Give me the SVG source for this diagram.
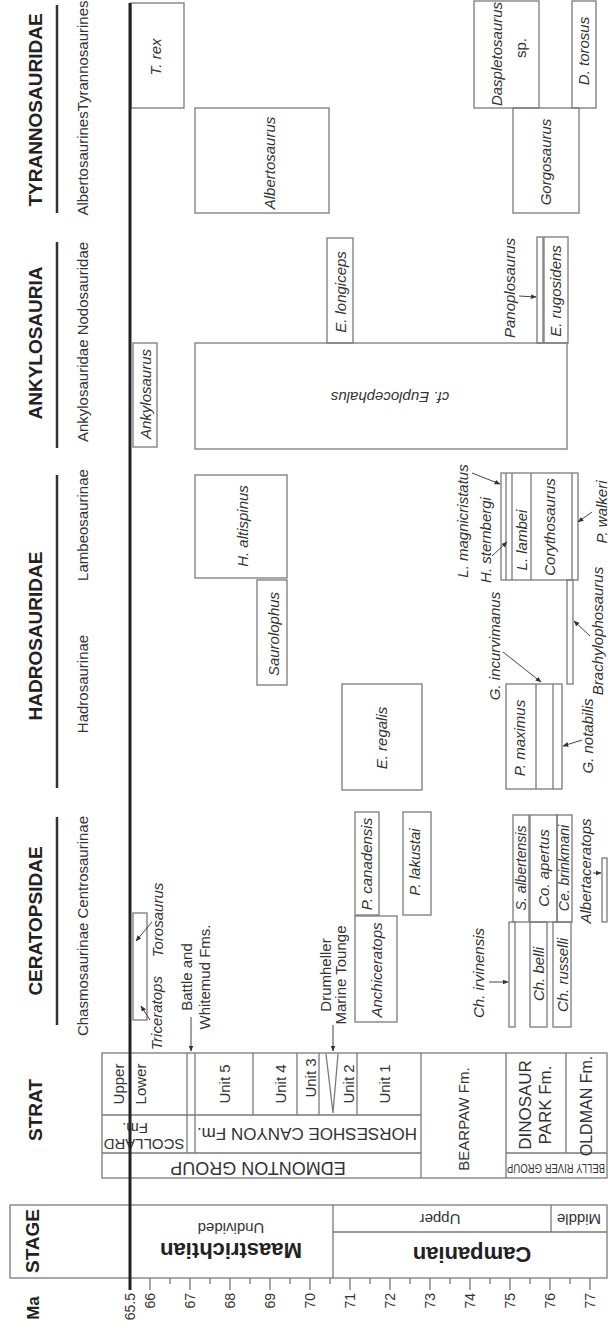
<svg xmlns="http://www.w3.org/2000/svg" width="608" height="1335" viewBox="0 0 608 1335">
<defs>
<marker id="ah" viewBox="0 0 10 10" refX="9" refY="5" markerWidth="6" markerHeight="6" orient="auto"><path d="M0,1 L10,5 L0,9 z" fill="#333"/></marker>
<style>
.bx{fill:none;stroke:#7a7a7a;stroke-width:1.3}
.ln{stroke:#7a7a7a;stroke-width:1.3;fill:none}
text{font-family:"Liberation Sans",Arial,sans-serif;fill:#333;font-size:15px}
.it{font-style:italic}
.sm{font-size:14px}
.hd{font-weight:bold;font-size:19px;fill:#222}
.st{font-weight:bold;font-size:22px;fill:#222}
.tk{font-size:14px}
.ar{stroke:#444;stroke-width:1;fill:none;marker-end:url(#ah)}
.bar{stroke:#333;stroke-width:2.5}
.kpg{stroke:#222;stroke-width:3}
</style>
</defs>
<rect width="608" height="1335" fill="#fff"/>

<g id="headers">
<text class="hd" text-anchor="middle" transform="translate(42,110) rotate(-90)">TYRANNOSAURIDAE</text>
<text class="hd" text-anchor="middle" transform="translate(42,343) rotate(-90)">ANKYLOSAURIA</text>
<text class="hd" text-anchor="middle" transform="translate(42,636) rotate(-90)">HADROSAURIDAE</text>
<text class="hd" text-anchor="middle" transform="translate(42,921) rotate(-90)">CERATOPSIDAE</text>
<text class="hd" text-anchor="middle" transform="translate(42,1110) rotate(-90)">STRAT</text>
<text class="hd" text-anchor="middle" transform="translate(39,1241) rotate(-90)">STAGE</text>
<text class="hd" style="font-size:17px" text-anchor="middle" transform="translate(39,1308) rotate(-90)">Ma</text>
<path class="bar" d="M57 5V213 M57 242V448 M57 475V788 M57 817V1025"/>
<text text-anchor="middle" transform="translate(88,108) rotate(-90)">AlbertosaurinesTyrannosaurines</text>
<text text-anchor="middle" transform="translate(88,342) rotate(-90)">Ankylosauridae Nodosauridae</text>
<text text-anchor="middle" transform="translate(88,525) rotate(-90)">Lambeosaurinae</text>
<text text-anchor="middle" transform="translate(88,684) rotate(-90)">Hadrosaurinae</text>
<text text-anchor="middle" transform="translate(88,926) rotate(-90)">Chasmosaurinae Centrosaurinae</text>
</g>

<g id="stage">
<rect class="bx" x="10" y="1205" width="597" height="73"/>
<path class="ln" d="M333 1205V1278 M333 1232H607 M551 1205V1232"/>
<text text-anchor="middle" transform="translate(231,1223) rotate(180)">Undivided</text>
<text class="st" text-anchor="middle" transform="translate(231,1243) rotate(180)">Maastrichtian</text>
<text text-anchor="middle" transform="translate(440,1214) rotate(180)">Upper</text>
<text text-anchor="middle" transform="translate(579,1214) rotate(180)">Middle</text>
<text class="st" text-anchor="middle" transform="translate(472,1247) rotate(180)">Campanian</text>
</g>

<g id="axis">
<path class="ln" stroke="#555" d="M150 1278V1290 M190 1278V1290 M230 1278V1290 M270 1278V1290 M310 1278V1290 M350 1278V1290 M390 1278V1290 M430 1278V1290 M470 1278V1290 M510 1278V1290 M550 1278V1290 M590 1278V1290"/>
<path class="ln" stroke="#555" d="M170 1278V1284 M210 1278V1284 M250 1278V1284 M290 1278V1284 M330 1278V1284 M370 1278V1284 M410 1278V1284 M450 1278V1284 M490 1278V1284 M530 1278V1284 M570 1278V1284"/>
<g class="tk">
<text class="tk" text-anchor="end" transform="translate(135,1293) rotate(-90)">65.5</text>
<text class="tk" text-anchor="end" transform="translate(155,1293) rotate(-90)">66</text>
<text class="tk" text-anchor="end" transform="translate(195,1293) rotate(-90)">67</text>
<text class="tk" text-anchor="end" transform="translate(235,1293) rotate(-90)">68</text>
<text class="tk" text-anchor="end" transform="translate(275,1293) rotate(-90)">69</text>
<text class="tk" text-anchor="end" transform="translate(315,1293) rotate(-90)">70</text>
<text class="tk" text-anchor="end" transform="translate(355,1293) rotate(-90)">71</text>
<text class="tk" text-anchor="end" transform="translate(395,1293) rotate(-90)">72</text>
<text class="tk" text-anchor="end" transform="translate(435,1293) rotate(-90)">73</text>
<text class="tk" text-anchor="end" transform="translate(475,1293) rotate(-90)">74</text>
<text class="tk" text-anchor="end" transform="translate(515,1293) rotate(-90)">75</text>
<text class="tk" text-anchor="end" transform="translate(555,1293) rotate(-90)">76</text>
<text class="tk" text-anchor="end" transform="translate(595,1293) rotate(-90)">77</text>
</g>
</g>

<g id="strat">
<rect class="bx" x="102" y="1053" width="505" height="125"/>
<path class="ln" d="M102 1115H421 M102 1153H421 M506 1153H607 M187 1053V1153 M195 1053V1153 M253 1053V1115 M297 1053V1115 M319 1053V1115 M357 1053V1115 M421 1053V1178 M506 1053V1178 M566 1053V1153 M326 1054L333 1113 M338 1054L333 1113"/>
<text text-anchor="middle" transform="translate(124,1084) rotate(-90)">Upper</text>
<text text-anchor="middle" transform="translate(146,1084) rotate(-90)">Lower</text>
<text text-anchor="middle" transform="translate(144,1139) rotate(180)">SCOLLARD</text>
<text text-anchor="middle" transform="translate(135,1123) rotate(180)">Fm.</text>
<text text-anchor="middle" style="font-size:17px" transform="translate(307,1128) rotate(180)">HORSESHOE CANYON Fm.</text>
<text text-anchor="middle" style="font-size:18px" transform="translate(258,1162) rotate(180)">EDMONTON GROUP</text>
<text text-anchor="middle" transform="translate(230,1084) rotate(-90)">Unit 5</text>
<text text-anchor="middle" transform="translate(286,1084) rotate(-90)">Unit 4</text>
<text text-anchor="middle" transform="translate(316,1078) rotate(-90)">Unit 3</text>
<text text-anchor="middle" transform="translate(354,1084) rotate(-90)">Unit 2</text>
<text text-anchor="middle" transform="translate(390,1084) rotate(-90)">Unit 1</text>
<text text-anchor="middle" transform="translate(469,1119) rotate(-90)">BEARPAW Fm.</text>
<text text-anchor="middle" style="font-size:17px" transform="translate(531,1105) rotate(-90)">DINOSAUR</text>
<text text-anchor="middle" style="font-size:17px" transform="translate(551,1105) rotate(-90)">PARK Fm.</text>
<text text-anchor="middle" style="font-size:16px" transform="translate(592,1106) rotate(-90)">OLDMAN Fm.</text>
<text text-anchor="middle" style="font-size:12px" textLength="98" lengthAdjust="spacingAndGlyphs" transform="translate(556,1164) rotate(180)">BELLY RIVER GROUP</text>
</g>

<g id="n-trex"><rect class="bx" x="131" y="3" width="53" height="105"/><text class="it" text-anchor="middle" transform="translate(161,57) rotate(-90)">T. rex</text></g>
<g id="n-albertosaurus"><rect class="bx" x="195" y="108" width="134" height="105"/><text class="it" text-anchor="middle" transform="translate(275,163) rotate(-90)">Albertosaurus</text></g>
<g id="n-daspletosaurus"><rect class="bx" x="474" y="1" width="65" height="107"/><text class="it" text-anchor="middle" transform="translate(502,54) rotate(-90)">Daspletosaurus</text><text text-anchor="middle" transform="translate(526,48) rotate(-90)">sp.</text></g>
<g id="n-dtorosus"><rect class="bx" x="572" y="1" width="24" height="107"/><text class="it" text-anchor="middle" transform="translate(589,51) rotate(-90)">D. torosus</text></g>
<g id="n-gorgosaurus"><rect class="bx" x="513" y="108" width="66" height="105"/><text class="it" text-anchor="middle" transform="translate(551,162) rotate(-90)">Gorgosaurus</text></g>

<g id="n-ankylosaurus"><rect class="bx" x="133" y="343" width="24" height="104"/><text class="it" text-anchor="middle" transform="translate(151,394) rotate(-90)">Ankylosaurus</text></g>
<g id="n-euplocephalus"><rect class="bx" x="195" y="343" width="372" height="106"/><text class="it" text-anchor="middle" transform="translate(390,392) rotate(180)">cf. Euplocephalus</text></g>
<g id="n-elongiceps"><rect class="bx" x="327" y="238" width="26" height="105"/><text class="it" text-anchor="middle" transform="translate(346,292) rotate(-90)">E. longiceps</text></g>
<g id="n-panoplosaurus"><rect class="bx" x="537" y="237" width="6" height="106"/><text class="it" text-anchor="middle" transform="translate(515,288) rotate(-90)">Panoplosaurus</text></g>
<g id="n-erugosidens"><rect class="bx" x="544" y="237" width="24" height="106"/><text class="it" text-anchor="middle" transform="translate(561,291) rotate(-90)">E. rugosidens</text></g>

<g id="n-haltispinus"><rect class="bx" x="195" y="475" width="92" height="103"/><text class="it" text-anchor="middle" transform="translate(248,526) rotate(-90)">H. altispinus</text></g>
<g id="n-saurolophus"><rect class="bx" x="257" y="580" width="30" height="105"/><text class="it" text-anchor="middle" transform="translate(279,634) rotate(-90)">Saurolophus</text></g>
<g id="n-eregalis"><rect class="bx" x="342" y="684" width="80" height="106"/><text class="it" text-anchor="middle" transform="translate(387,738) rotate(-90)">E. regalis</text></g>
<g id="n-lambeosaurines">
<rect class="bx" x="501" y="473" width="77" height="107"/>
<path class="ln" d="M506 473V580 M512 473V580 M531 473V580 M572 473V580"/>
<text class="it" text-anchor="middle" transform="translate(527,540) rotate(-90)">L. lambei</text>
<text class="it" text-anchor="middle" transform="translate(555,527) rotate(-90)">Corythosaurus</text>
<text class="it" text-anchor="middle" transform="translate(468,521) rotate(-90)">L. magnicristatus</text>
<text class="it" text-anchor="middle" transform="translate(491,540) rotate(-90)">H. sternbergi</text>
<text class="it" text-anchor="middle" transform="translate(607,512) rotate(-90)">P. walkeri</text>
</g>
<g id="n-brachylophosaurus"><rect class="bx" x="567" y="580" width="6" height="104"/><text class="it" text-anchor="middle" transform="translate(603,631) rotate(-90)">Brachylophosaurus</text></g>
<g id="n-pmaximus">
<rect class="bx" x="506" y="684" width="56" height="105"/>
<path class="ln" d="M536 684V789 M553 684V789"/>
<text class="it" text-anchor="middle" transform="translate(525,738) rotate(-90)">P. maximus</text>
<text class="it" text-anchor="middle" transform="translate(500,646) rotate(-90)">G. incurvimanus</text>
<text class="it" text-anchor="middle" transform="translate(593,736) rotate(-90)">G. notabilis</text>
</g>

<g id="n-triceratops"><rect class="bx" x="133" y="913" width="14" height="107"/>
<text class="it" text-anchor="middle" transform="translate(163,920) rotate(-90)">Torosaurus</text>
<text class="it" text-anchor="middle" transform="translate(162,1013) rotate(-90)">Triceratops</text></g>
<g id="n-battle"><text text-anchor="middle" transform="translate(192,977) rotate(-90)">Battle and</text><text text-anchor="middle" transform="translate(210,977) rotate(-90)">Whitemud Fms.</text></g>
<g id="n-drumheller"><text text-anchor="middle" transform="translate(331,975) rotate(-90)">Drumheller</text><text text-anchor="middle" transform="translate(346,975) rotate(-90)">Marine Tounge</text></g>
<g id="n-anchiceratops"><rect class="bx" x="355" y="916" width="42" height="106"/><text class="it" text-anchor="middle" transform="translate(382,970) rotate(-90)">Anchiceratops</text></g>
<g id="n-pcanadensis"><rect class="bx" x="355" y="812" width="24" height="103"/><text class="it" text-anchor="middle" transform="translate(372,864) rotate(-90)">P. canadensis</text></g>
<g id="n-plakustai"><rect class="bx" x="403" y="812" width="28" height="103"/><text class="it" text-anchor="middle" transform="translate(420,862) rotate(-90)">P. lakustai</text></g>
<g id="n-chirvinensis"><rect class="bx" x="509" y="922" width="6" height="105"/><text class="it" text-anchor="middle" transform="translate(484,973) rotate(-90)">Ch. irvinensis</text></g>
<g id="n-chbelli"><rect class="bx" x="530" y="922" width="17" height="105"/><text class="it" text-anchor="middle" transform="translate(544,974) rotate(-90)">Ch. belli</text></g>
<g id="n-chrusselli"><rect class="bx" x="553" y="922" width="18" height="105"/><text class="it" text-anchor="middle" transform="translate(568,975) rotate(-90)">Ch. russelli</text></g>
<g id="n-salbertensis"><rect class="bx" x="513" y="815" width="16" height="107"/><text class="it sm" text-anchor="middle" transform="translate(526,868) rotate(-90)">S. albertensis</text></g>
<g id="n-coapertus"><rect class="bx" x="530" y="815" width="27" height="107"/><text class="it" text-anchor="middle" transform="translate(549,868) rotate(-90)">Co. apertus</text></g>
<g id="n-cebrinkmani"><rect class="bx" x="557" y="815" width="15" height="107"/><text class="it sm" text-anchor="middle" transform="translate(569,868) rotate(-90)">Ce. brinkmani</text></g>
<g id="n-albertaceratops"><rect class="bx" x="602" y="858" width="5" height="64"/><text class="it" text-anchor="middle" transform="translate(591,871) rotate(-90)">Albertaceratops</text></g>

<g id="connectors">
<line class="ar" x1="519" y1="296" x2="536" y2="297"/>
<line class="ar" x1="472" y1="473" x2="500" y2="484"/>
<line class="ar" x1="492" y1="556" x2="507" y2="542"/>
<line class="ar" x1="592" y1="512" x2="578" y2="522"/>
<line class="ar" x1="590" y1="636" x2="574" y2="621"/>
<line class="ar" x1="503" y1="652" x2="541" y2="682"/>
<line class="ar" x1="582" y1="740" x2="563" y2="746"/>
<line class="ar" x1="152" y1="922" x2="136" y2="941"/>
<line class="ar" x1="150" y1="1020" x2="141" y2="1006"/>
<line class="ar" x1="191" y1="1017" x2="191" y2="1051"/>
<line class="ar" x1="333" y1="1025" x2="333" y2="1051"/>
<line class="ar" x1="489" y1="982" x2="508" y2="982"/>
<line class="ar" x1="593" y1="873" x2="601" y2="873"/>
</g>

<line id="kpg" class="kpg" x1="130" y1="3" x2="130" y2="1290"/>
</svg>
